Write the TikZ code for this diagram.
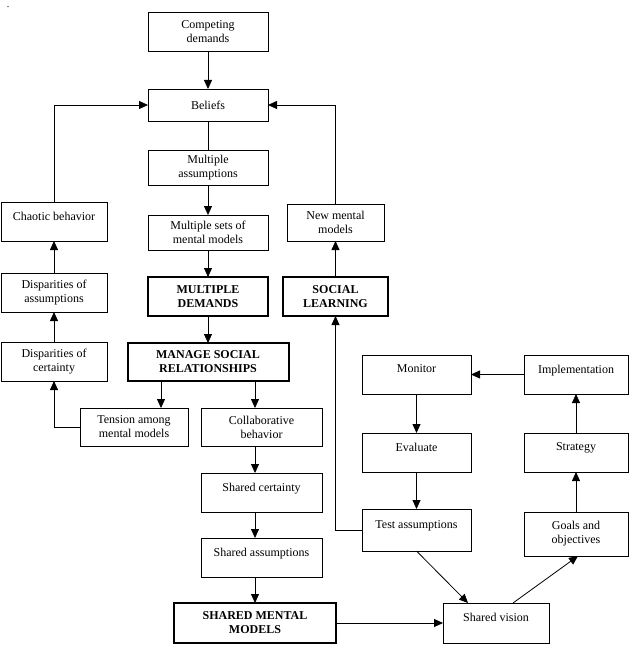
\documentclass[tikz,border=0pt]{standalone}
\usepackage{fontspec}
\setmainfont{Liberation Serif}
\usetikzlibrary{positioning}
\usetikzlibrary{arrows.meta}

\tikzset{
  box/.style={draw, line width=0.8pt, inner sep=2pt, outer sep=0pt,
    align=center, font=\fontsize{12}{14}\selectfont},
  hi/.style={text depth=11pt},
  heavy/.style={box, line width=2pt, font=\fontsize{12}{14}\selectfont\bfseries},
  sz/.style 2 args={minimum width=#1, minimum height=#2},
  arr/.style={-{Triangle[length=9pt,width=8pt]}, line width=0.8pt},
}

\begin{document}
\begin{tikzpicture}[x=1pt,y=-1pt]

\useasboundingbox (0,0) rectangle (637,650);

\node (dot) at (8,7) {.};

% main column
\node (competing) [box, sz={120pt}{39pt}] at (208,31.5) {Competing\\demands};
\node (beliefs) [box, sz={120pt}{32pt}, below=38pt of competing] {Beliefs};
\node (ma) [box, sz={120pt}{35pt}, below=29pt of beliefs] {Multiple\\assumptions};
\node (ms) [box, sz={120pt}{35pt}, below=30pt of ma] {Multiple sets of\\mental models};
\node (md) [heavy, sz={120pt}{39pt}, below=27pt of ms] {MULTIPLE\\DEMANDS};
\node (manage) [heavy, sz={161pt}{38pt}, below=27pt of md] {MANAGE SOCIAL\\RELATIONSHIPS};

\node (tension) [box, sz={108pt}{38pt}] at (134,427) {Tension among\\mental models};
\node (collab) [box, sz={121pt}{38pt}] at (261.5,427) {Collaborative\\behavior};
\node (sc) [box, hi, sz={121pt}{39pt}, below=27pt of collab] {Shared certainty};
\node (sa) [box, hi, sz={121pt}{39pt}, below=26pt of sc] {Shared assumptions};
\node (smm) [heavy, sz={162pt}{40pt}] at (255,623) {SHARED MENTAL\\MODELS};

% left column
\node (chaotic) [box, hi, sz={106pt}{39pt}] at (54,221.5) {Chaotic behavior};
\node (dispa) [box, sz={106pt}{39pt}, below=32pt of chaotic] {Disparities of\\assumptions};
\node (dispc) [box, sz={106pt}{39pt}, below=30pt of dispa] {Disparities of\\certainty};

% social learning
\node (sl) [heavy, sz={105pt}{39pt}] at (335.5,296.5) {SOCIAL\\LEARNING};
\node (nmm) [box, sz={97pt}{37pt}, above=36pt of sl] {New mental\\models};

% right cycle
\node (monitor) [box, hi, sz={109pt}{39pt}] at (416.5,374.5) {Monitor};
\node (evaluate) [box, hi, sz={109pt}{39pt}, below=39pt of monitor] {Evaluate};
\node (test) [box, hi, sz={109pt}{42pt}, below=37pt of evaluate] {Test assumptions};
\node (impl) [box, hi, sz={104pt}{39pt}] at (576,374.5) {Implementation};
\node (strategy) [box, hi, sz={104pt}{39pt}, below=39pt of impl] {Strategy};
\node (goals) [box, sz={104pt}{44pt}, below=40pt of strategy] {Goals and\\objectives};
\node (sv) [box, hi, sz={106pt}{40pt}] at (496,623) {Shared vision};

% connectors
\draw[arr] (competing) -- (beliefs);
\draw[line width=0.8pt] (beliefs) -- (ma);
\draw[arr] (ma) -- (ms);
\draw[arr] (ms) -- (md);
\draw[arr] (md) -- (manage);
\draw[arr] ([xshift=-47pt]manage.south) -- ([xshift=27pt]tension.north);
\draw[arr] (manage.south -| smm) -- (collab.north -| smm);
\draw[arr] (collab.south -| smm) -- (sc.north -| smm);
\draw[arr] (sc.south -| smm) -- (sa.north -| smm);
\draw[arr] (sa.south -| smm) -- (smm.north);
\draw[arr] (smm) -- (sv);

\draw[arr] (tension.west) -| (dispc.south);
\draw[arr] (dispc) -- (dispa);
\draw[arr] (dispa) -- (chaotic);
\draw[arr] (chaotic.north) |- (beliefs.west);

\draw[arr] (sl) -- (nmm);
\draw[arr] (nmm.north) |- (beliefs.east);
\draw[arr] (test.west) -| (sl.south);

\draw[arr] (impl) -- (monitor);
\draw[arr] (monitor) -- (evaluate);
\draw[arr] (evaluate) -- (test);
\draw[arr] (test.south) -- ([xshift=-28pt]sv.north);
\draw[arr] ([xshift=17pt]sv.north) -- ([xshift=2pt]goals.south);
\draw[arr] (goals) -- (strategy);
\draw[arr] (strategy) -- (impl);

\end{tikzpicture}
\end{document}
